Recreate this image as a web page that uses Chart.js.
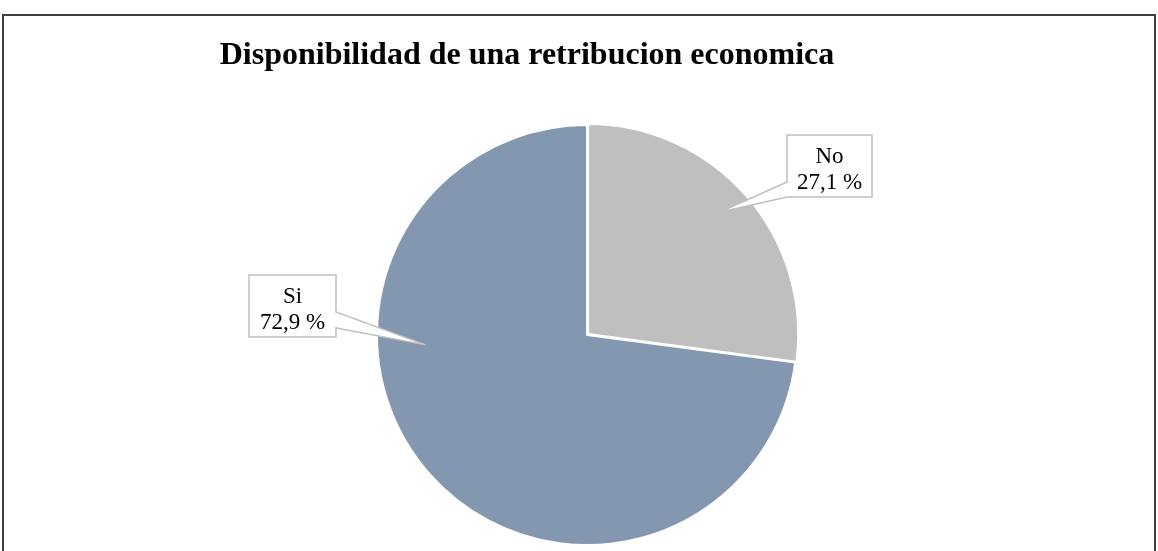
<!DOCTYPE html>
<html>
<head>
<meta charset="utf-8">
<script src="https://cdn.jsdelivr.net/npm/chart.js@4.4.1/dist/chart.umd.min.js"></script>
<style>
  html, body { margin: 0; padding: 0; background: #fff; }
  #wrap { width: 1158px; height: 551px; }
</style>
</head>
<body>
<div id="wrap"><canvas id="grafico"></canvas></div>
<script>
const titulo = "Disponibilidad de una retribucion economica";
const categorias = ["No", "Si"];
const porcentajes = [27.1, 72.9];
const colores = ["#BFBFBF", "#8497B0"];

// callouts: box relative to pie center, tip as polar (deg, fraction of radius)
const callouts = [
  { dx: 200, dy: -200, w: 85, h: 62, side: "left", a: 47, b: 62, ang: -42.8, frac: 0.86 },
  { dx: -338, dy: -60, w: 87, h: 62, side: "right", a: 37, b: 53, ang: 176.5, frac: 0.77 }
];

function fmt(v) {
  return v.toFixed(1).replace(".", ",") + " %";
}

const marco = {
  id: "marco",
  beforeDraw(chart) {
    const ctx = chart.ctx;
    ctx.save();
    ctx.fillStyle = "#fff";
    ctx.fillRect(0, 0, chart.width, chart.height);
    ctx.strokeStyle = "#404040";
    ctx.lineWidth = 2;
    ctx.strokeRect(3, 15, chart.width - 6, chart.height + 20);
    ctx.fillStyle = "#000";
    ctx.font = "bold 32px 'Liberation Serif', 'Times New Roman', serif";
    ctx.textAlign = "center";
    ctx.textBaseline = "alphabetic";
    ctx.fillText(titulo, 527, 64);
    ctx.restore();
  }
};

const etiquetas = {
  id: "etiquetas",
  afterDatasetsDraw(chart) {
    const ctx = chart.ctx;
    const arcs = chart.getDatasetMeta(0).data;
    ctx.save();
    arcs.forEach((arc, i) => {
      const c = callouts[i];
      const cx = arc.x, cy = arc.y, r = arc.outerRadius;
      const x = cx + c.dx, y = cy + c.dy;
      const t = c.ang * Math.PI / 180;
      const tx = cx + Math.cos(t) * r * c.frac;
      const ty = cy + Math.sin(t) * r * c.frac;
      let pts;
      if (c.side === "left") {
        pts = [[x, y], [x + c.w, y], [x + c.w, y + c.h], [x, y + c.h],
               [x, y + c.b], [tx, ty], [x, y + c.a]];
      } else {
        pts = [[x, y], [x + c.w, y], [x + c.w, y + c.a], [tx, ty],
               [x + c.w, y + c.b], [x + c.w, y + c.h], [x, y + c.h]];
      }
      ctx.beginPath();
      pts.forEach((p, k) => k ? ctx.lineTo(p[0], p[1]) : ctx.moveTo(p[0], p[1]));
      ctx.closePath();
      ctx.fillStyle = "#fff";
      ctx.fill();
      ctx.strokeStyle = "#BFBFBF";
      ctx.lineWidth = 1.5;
      ctx.stroke();

      ctx.fillStyle = "#000";
      ctx.font = "23px 'Liberation Serif', 'Times New Roman', serif";
      ctx.textAlign = "center";
      ctx.textBaseline = "alphabetic";
      ctx.fillText(categorias[i], x + c.w / 2, y + 28);
      ctx.fillText(fmt(porcentajes[i]), x + c.w / 2, y + 54);
    });
    ctx.restore();
  }
};

new Chart(document.getElementById("grafico"), {
  type: "pie",
  data: {
    labels: categorias,
    datasets: [{
      data: porcentajes,
      backgroundColor: colores,
      borderColor: "#fff",
      borderWidth: 2,
      offset: [6, 0],
      radius: 210
    }]
  },
  options: {
    responsive: true,
    maintainAspectRatio: false,
    animation: false,
    layout: { padding: { left: 100, right: 84, top: 130, bottom: 11 } },
    plugins: {
      legend: { display: false },
      tooltip: { enabled: false },
      title: { display: false }
    }
  },
  plugins: [marco, etiquetas]
});
</script>
</body>
</html>
